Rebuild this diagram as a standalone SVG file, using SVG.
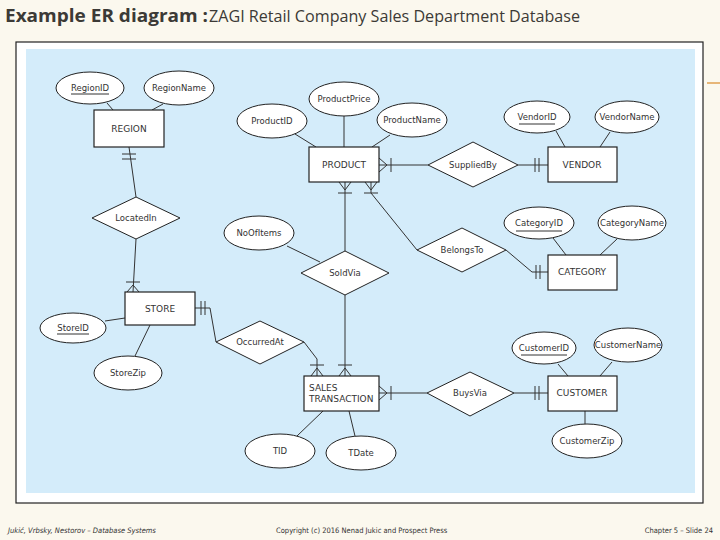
<svg xmlns="http://www.w3.org/2000/svg" width="720" height="540" viewBox="0 0 720 540">
<style>
.ent{fill:#fff;stroke:#222;stroke-width:1.2}
.att{fill:#fff;stroke:#222;stroke-width:1}
.rel{fill:#fff;stroke:#222;stroke-width:1}
.ln{fill:none;stroke:#333;stroke-width:1}
.lbl{font-family:"DejaVu Sans",Verdana,sans-serif;font-size:8.5px;fill:#333;text-anchor:middle}
.elbl{font-family:"DejaVu Sans",Verdana,sans-serif;font-size:9px;fill:#333;text-anchor:middle}
.st{text-anchor:start}
.ul{stroke:#333;stroke-width:1}
.foot{font-family:"DejaVu Sans Condensed","DejaVu Sans",sans-serif;font-size:7.5px;fill:#333}
</style>
<rect x="0" y="0" width="720" height="540" fill="#fbf8ee"/>
<text x="5" y="22" font-family="'Open Sans',sans-serif" font-size="17" font-weight="bold" fill="#3c3a36" textLength="203" lengthAdjust="spacingAndGlyphs">Example ER diagram :</text>
<text x="209" y="22" font-family="'Open Sans',sans-serif" font-size="17" fill="#3c3a36" textLength="371" lengthAdjust="spacingAndGlyphs">ZAGI Retail Company Sales Department Database</text>
<line x1="707" y1="83" x2="720" y2="83" stroke="#e0a050" stroke-width="1.5"/>
<rect x="16" y="42" width="687" height="461" fill="#fff" stroke="#222" stroke-width="1.2"/>
<rect x="26" y="49" width="669" height="444" fill="#d4ecfa"/>

<g id="connectors">
<line class="ln" x1="107" y1="103" x2="113" y2="110"/>
<line class="ln" x1="163" y1="104" x2="152" y2="110"/>
<line class="ln" x1="129" y1="147" x2="136" y2="197"/>
<line class="ln" x1="122" y1="154" x2="136" y2="154"/>
<line class="ln" x1="122" y1="159" x2="136" y2="159"/>
<line class="ln" x1="136" y1="239" x2="133" y2="292"/>
<line class="ln" x1="126" y1="282" x2="140" y2="282"/>
<line class="ln" x1="127" y1="292" x2="133" y2="285"/>
<line class="ln" x1="139" y1="292" x2="133" y2="285"/>
<line class="ln" x1="105" y1="321" x2="125" y2="318"/>
<line class="ln" x1="150" y1="325" x2="135" y2="356"/>
<polyline class="ln" points="195,308 210,308 216,342"/>
<line class="ln" x1="201" y1="301" x2="201" y2="315"/>
<line class="ln" x1="205" y1="301" x2="205" y2="315"/>
<polyline class="ln" points="304,342 317,359 317,376"/>
<line class="ln" x1="310" y1="365" x2="324" y2="365"/>
<line class="ln" x1="311" y1="376" x2="317" y2="368"/>
<line class="ln" x1="323" y1="376" x2="317" y2="368"/>
<line class="ln" x1="295" y1="134" x2="316" y2="147"/>
<line class="ln" x1="344" y1="116" x2="344" y2="147"/>
<line class="ln" x1="390" y1="135" x2="372" y2="147"/>
<line class="ln" x1="379" y1="165" x2="428" y2="165"/>
<line class="ln" x1="379" y1="158" x2="387" y2="165"/>
<line class="ln" x1="379" y1="172" x2="387" y2="165"/>
<line class="ln" x1="391" y1="158" x2="391" y2="172"/>
<line class="ln" x1="518" y1="165" x2="548" y2="165"/>
<line class="ln" x1="535" y1="158" x2="535" y2="172"/>
<line class="ln" x1="539" y1="158" x2="539" y2="172"/>
<line class="ln" x1="556" y1="131" x2="565" y2="147"/>
<line class="ln" x1="610" y1="132" x2="600" y2="147"/>
<line class="ln" x1="345" y1="182" x2="345" y2="251"/>
<line class="ln" x1="339" y1="182" x2="345" y2="190"/>
<line class="ln" x1="351" y1="182" x2="345" y2="190"/>
<line class="ln" x1="338" y1="193" x2="352" y2="193"/>
<line class="ln" x1="345" y1="295" x2="345" y2="376"/>
<line class="ln" x1="338" y1="365" x2="352" y2="365"/>
<line class="ln" x1="339" y1="376" x2="345" y2="368"/>
<line class="ln" x1="351" y1="376" x2="345" y2="368"/>
<line class="ln" x1="287" y1="246" x2="320" y2="262"/>
<polyline class="ln" points="371,182 371,193 417,250"/>
<line class="ln" x1="365" y1="182" x2="371" y2="190"/>
<line class="ln" x1="377" y1="182" x2="371" y2="190"/>
<line class="ln" x1="364" y1="193" x2="378" y2="193"/>
<polyline class="ln" points="506,250 532,272 548,272"/>
<line class="ln" x1="536" y1="265" x2="536" y2="279"/>
<line class="ln" x1="540" y1="265" x2="540" y2="279"/>
<line class="ln" x1="553" y1="238" x2="566" y2="255"/>
<line class="ln" x1="617" y1="239" x2="600" y2="255"/>
<line class="ln" x1="379" y1="393" x2="427" y2="393"/>
<line class="ln" x1="379" y1="386" x2="387" y2="393"/>
<line class="ln" x1="379" y1="400" x2="387" y2="393"/>
<line class="ln" x1="391" y1="386" x2="391" y2="400"/>
<line class="ln" x1="514" y1="393" x2="548" y2="393"/>
<line class="ln" x1="535" y1="386" x2="535" y2="400"/>
<line class="ln" x1="539" y1="386" x2="539" y2="400"/>
<line class="ln" x1="558" y1="364" x2="568" y2="376"/>
<line class="ln" x1="612" y1="362" x2="600" y2="376"/>
<line class="ln" x1="585" y1="411" x2="585" y2="424"/>
<line class="ln" x1="323" y1="411" x2="297" y2="436"/>
<line class="ln" x1="349" y1="411" x2="355" y2="436"/>
</g>

<g id="REGION"><rect class="ent" x="94" y="110" width="70" height="37"/><text class="elbl" x="129" y="132">REGION</text></g>
<g id="RegionID"><ellipse class="att" cx="90" cy="88" rx="34" ry="16"/><text class="lbl" x="90" y="91">RegionID</text><line class="ul" x1="71" y1="94" x2="109" y2="94"/></g>
<g id="RegionName"><ellipse class="att" cx="179" cy="88" rx="35" ry="17"/><text class="lbl" x="179" y="91">RegionName</text></g>
<g id="LocatedIn"><polygon class="rel" points="92,218 136,197 180,218 136,239"/><text class="lbl" x="136" y="221">LocatedIn</text></g>
<g id="STORE"><rect class="ent" x="125" y="292" width="70" height="33"/><text class="elbl" x="160" y="312">STORE</text></g>
<g id="StoreID"><ellipse class="att" cx="73" cy="328" rx="33" ry="15"/><text class="lbl" x="73" y="331">StoreID</text><line class="ul" x1="57" y1="334" x2="89" y2="334"/></g>
<g id="StoreZip"><ellipse class="att" cx="128" cy="373" rx="34" ry="17"/><text class="lbl" x="128" y="376">StoreZip</text></g>
<g id="OccurredAt"><polygon class="rel" points="216,342 260,321 304,342 260,364"/><text class="lbl" x="260" y="345">OccurredAt</text></g>
<g id="PRODUCT"><rect class="ent" x="309" y="147" width="70" height="35"/><text class="elbl" x="344" y="168">PRODUCT</text></g>
<g id="ProductID"><ellipse class="att" cx="272" cy="121" rx="35" ry="17"/><text class="lbl" x="272" y="124">ProductID</text></g>
<g id="ProductPrice"><ellipse class="att" cx="344" cy="99" rx="35" ry="17"/><text class="lbl" x="344" y="102">ProductPrice</text></g>
<g id="ProductName"><ellipse class="att" cx="412" cy="120" rx="35" ry="17"/><text class="lbl" x="412" y="123">ProductName</text></g>
<g id="SuppliedBy"><polygon class="rel" points="428,165 473,142 518,165 473,187"/><text class="lbl" x="473" y="168">SuppliedBy</text></g>
<g id="VENDOR"><rect class="ent" x="548" y="147" width="69" height="35"/><text class="elbl" x="582" y="168">VENDOR</text></g>
<g id="VendorID"><ellipse class="att" cx="537" cy="117" rx="33" ry="16"/><text class="lbl" x="537" y="120">VendorID</text><line class="ul" x1="519" y1="124" x2="555" y2="124"/></g>
<g id="VendorName"><ellipse class="att" cx="627" cy="117" rx="32" ry="16"/><text class="lbl" x="627" y="120">VendorName</text></g>
<g id="SoldVia"><polygon class="rel" points="301,273 345,251 389,273 345,295"/><text class="lbl" x="345" y="276">SoldVia</text></g>
<g id="NoOfItems"><ellipse class="att" cx="259" cy="233" rx="35" ry="17"/><text class="lbl" x="259" y="236">NoOfItems</text></g>
<g id="BelongsTo"><polygon class="rel" points="417,250 462,228 506,250 462,272"/><text class="lbl" x="462" y="253">BelongsTo</text></g>
<g id="CATEGORY"><rect class="ent" x="548" y="255" width="69" height="35"/><text class="elbl" x="582" y="275">CATEGORY</text></g>
<g id="CategoryID"><ellipse class="att" cx="539" cy="223" rx="35" ry="16"/><text class="lbl" x="539" y="226">CategoryID</text><line class="ul" x1="516" y1="231" x2="562" y2="231"/></g>
<g id="CategoryName"><ellipse class="att" cx="632" cy="223" rx="34" ry="17"/><text class="lbl" x="632" y="226">CategoryName</text></g>
<g id="SALES_TRANSACTION"><rect class="ent" x="304" y="376" width="75" height="35"/><text class="elbl st" x="309" y="391">SALES</text><text class="elbl st" x="309" y="402">TRANSACTION</text></g>
<g id="TID"><ellipse class="att" cx="280" cy="451" rx="35" ry="17"/><text class="lbl" x="280" y="454">TID</text></g>
<g id="TDate"><ellipse class="att" cx="361" cy="453" rx="35" ry="17"/><text class="lbl" x="361" y="456">TDate</text></g>
<g id="BuysVia"><polygon class="rel" points="427,393 470,372 514,393 470,416"/><text class="lbl" x="470" y="396">BuysVia</text></g>
<g id="CUSTOMER"><rect class="ent" x="548" y="376" width="69" height="35"/><text class="elbl" x="582" y="396">CUSTOMER</text></g>
<g id="CustomerID"><ellipse class="att" cx="544" cy="348" rx="32" ry="16"/><text class="lbl" x="544" y="351">CustomerID</text><line class="ul" x1="521" y1="355" x2="567" y2="355"/></g>
<g id="CustomerName"><ellipse class="att" cx="628" cy="345" rx="34" ry="17"/><text class="lbl" x="628" y="348">CustomerName</text></g>
<g id="CustomerZip"><ellipse class="att" cx="587" cy="441" rx="35" ry="17"/><text class="lbl" x="587" y="444">CustomerZip</text></g>

<text class="foot" x="8" y="533" font-style="italic">Jukić, Vrbsky, Nestorov – Database Systems</text>
<text class="foot" x="276" y="533">Copyright (c) 2016 Nenad Jukic and Prospect Press</text>
<text class="foot" x="713" y="533" style="text-anchor:end">Chapter 5 – Slide 24</text>
</svg>
